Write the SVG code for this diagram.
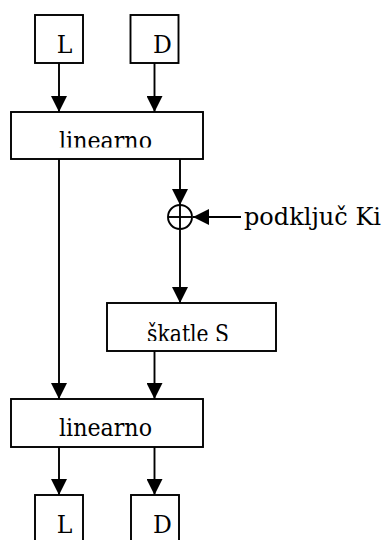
<svg xmlns="http://www.w3.org/2000/svg" width="382" height="540" viewBox="0 0 382 540">
  <style>
    .box { fill: #fff; stroke: #000; stroke-width: 1.9; }
    .wire { fill: none; stroke: #000; stroke-width: 1.9; }
    .lbl { font-family: "DejaVu Serif", "Liberation Serif", serif; font-size: 23.5px; fill: #000; }
  </style>
  <defs>
    <marker id="head" markerUnits="userSpaceOnUse" markerWidth="16" markerHeight="16" viewBox="0 0 15 15" refX="15" refY="7.5" orient="auto">
      <path d="M0,0 L15,7.5 L0,15 Z" fill="#000"/>
    </marker>
    <clipPath id="clipLin1"><rect x="11" y="112" width="192" height="35.5"/></clipPath>
    <clipPath id="clipSk"><rect x="107" y="303" width="169" height="38"/></clipPath>
    <clipPath id="clipLin2"><rect x="11" y="399" width="192" height="38"/></clipPath>
  </defs>

  <!-- connectors -->
  <g id="connectors">
    <line class="wire" x1="59" y1="63" x2="59" y2="112" marker-end="url(#head)"/>
    <line class="wire" x1="154.5" y1="63" x2="154.5" y2="112" marker-end="url(#head)"/>
    <line class="wire" x1="59" y1="159" x2="59" y2="399" marker-end="url(#head)"/>
    <line class="wire" x1="180" y1="159" x2="180" y2="205" marker-end="url(#head)"/>
    <line class="wire" x1="241" y1="217" x2="193" y2="217" marker-end="url(#head)"/>
    <line class="wire" x1="180" y1="229.5" x2="180" y2="303" marker-end="url(#head)"/>
    <line class="wire" x1="154.5" y1="351" x2="154.5" y2="399" marker-end="url(#head)"/>
    <line class="wire" x1="59" y1="447" x2="59" y2="495" marker-end="url(#head)"/>
    <line class="wire" x1="154.5" y1="447" x2="154.5" y2="495" marker-end="url(#head)"/>
  </g>

  <g id="in-L">
    <rect class="box" x="35" y="15" width="48" height="48"/>
    <text class="lbl" x="64.5" y="53" text-anchor="middle">L</text>
  </g>
  <g id="in-D">
    <rect class="box" x="130.5" y="15" width="48" height="48"/>
    <text class="lbl" x="162.5" y="53" text-anchor="middle">D</text>
  </g>

  <g id="linear1">
    <rect class="box" x="11" y="112" width="192" height="47"/>
    <text class="lbl" x="105.5" y="148.5" text-anchor="middle" textLength="93" lengthAdjust="spacingAndGlyphs" clip-path="url(#clipLin1)">linearno</text>
  </g>

  <g id="xor">
    <circle cx="180" cy="217" r="12" fill="#fff" stroke="#000" stroke-width="1.9"/>
    <line class="wire" x1="168" y1="217" x2="192" y2="217"/>
    <line class="wire" x1="180" y1="205" x2="180" y2="229"/>
  </g>

  <g id="subkey">
    <text class="lbl" x="244" y="225" textLength="137" lengthAdjust="spacingAndGlyphs">podključ Ki</text>
  </g>

  <g id="sbox">
    <rect class="box" x="107" y="303" width="169" height="48"/>
    <text class="lbl" x="188" y="341.5" text-anchor="middle" textLength="82" lengthAdjust="spacingAndGlyphs" clip-path="url(#clipSk)">škatle S</text>
  </g>

  <g id="linear2">
    <rect class="box" x="11" y="399" width="192" height="48"/>
    <text class="lbl" x="105.5" y="436" text-anchor="middle" textLength="93" lengthAdjust="spacingAndGlyphs" clip-path="url(#clipLin2)">linearno</text>
  </g>

  <g id="out-L">
    <rect class="box" x="35" y="495" width="48" height="60"/>
    <text class="lbl" x="64.5" y="533" text-anchor="middle">L</text>
  </g>
  <g id="out-D">
    <rect class="box" x="131" y="495" width="48" height="60"/>
    <text class="lbl" x="162.5" y="533" text-anchor="middle">D</text>
  </g>
</svg>
